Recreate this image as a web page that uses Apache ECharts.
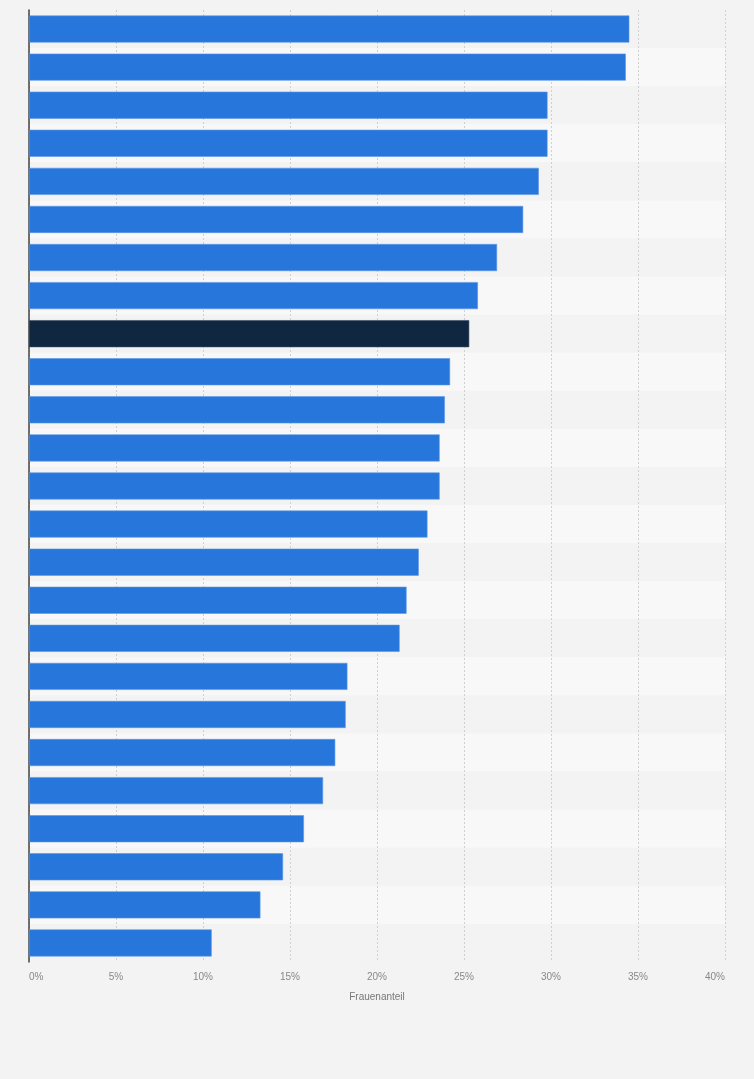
<!DOCTYPE html>
<html>
<head>
<meta charset="utf-8">
<style>
  html, body { margin: 0; padding: 0; background: #f3f3f3; }
  #chart { width: 754px; height: 1079px; }
</style>
<script src="https://cdn.jsdelivr.net/npm/echarts@6/dist/echarts.min.js"></script>
</head>
<body>
<div id="chart"></div>
<script>
// Kategorien ohne sichtbare Beschriftung (im Original ausgeblendet)
var categories = ['1', '2', '3', '4', '5', '6', '7', '8', '9', '10', '11', '12', '13',
    '14', '15', '16', '17', '18', '19', '20', '21', '22', '23', '24', '25'];
// Frauenanteil in Prozent
var shares = [34.5, 34.3, 29.8, 29.8, 29.3, 28.4, 26.9, 25.8, 25.3, 24.2, 23.9, 23.6, 23.6,
    22.9, 22.4, 21.7, 21.3, 18.3, 18.2, 17.6, 16.9, 15.8, 14.6, 13.3, 10.5];
var highlightIndex = 8;
var xTicks = [0, 5, 10, 15, 20, 25, 30, 35, 40];

window.addEventListener('load', function() {
    var myChart = echarts.init(document.getElementById('chart'));
    var option = {
        backgroundColor: '#f3f3f3',
        animation: false,
        grid: {
            left: 29,
            right: 29,
            top: 10,
            bottom: 117
        },
        xAxis: {
            type: 'value',
            min: xTicks[0],
            max: xTicks[xTicks.length - 1],
            interval: 5,
            name: 'Frauenanteil',
            nameLocation: 'middle',
            nameGap: 30,
            nameTextStyle: { color: '#777', fontSize: 10, fontFamily: 'Liberation Sans' },
            axisLine: { show: false },
            axisTick: { show: false },
            axisLabel: {
                color: '#888',
                fontSize: 10,
                fontFamily: 'Liberation Sans',
                margin: 10,
                alignMinLabel: 'left',
                alignMaxLabel: 'right',
                formatter: '{value}%'
            },
            splitLine: {
                show: true,
                lineStyle: { color: '#d0d0d0', type: [2, 2], width: 1 }
            }
        },
        yAxis: {
            type: 'category',
            inverse: true,
            data: categories,
            axisLine: { show: true, lineStyle: { color: '#444', width: 1.5 } },
            axisTick: { show: false },
            axisLabel: { show: false },
            splitArea: {
                show: true,
                areaStyle: { color: ['#f3f3f3', '#f8f8f8'] }
            }
        },
        series: [{
            type: 'bar',
            barCategoryGap: '29%',
            data: shares.map(function(v, i) {
                return {
                    value: v,
                    itemStyle: {
                        color: i === highlightIndex ? '#0f2741' : '#2776db',
                        borderColor: i === highlightIndex ? '#3a4d63' : '#5b97e6',
                        borderWidth: 0.6
                    }
                };
            })
        }]
    };
    myChart.setOption(option);
});
</script>
</body>
</html>
